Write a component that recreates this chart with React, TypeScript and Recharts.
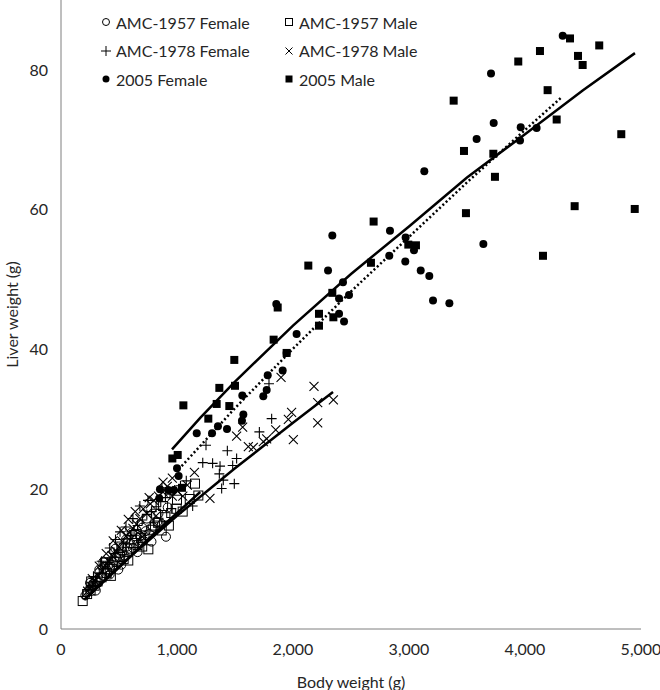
import { ScatterChart, Scatter, XAxis, YAxis } from "recharts";

type Pt = { x: number; y: number };

const xTicks = [0, 1000, 2000, 3000, 4000, 5000];
const yTicks = [0, 20, 40, 60, 80];

// AMC-1957
const amc57FemaleX = [210, 230, 250, 250, 265, 280, 300, 300, 320, 330, 340, 365, 380, 400, 420, 420, 440, 460, 470, 480, 494, 510, 520, 530, 550, 560, 570, 600, 610, 620, 650, 660, 680, 700, 700, 730, 740, 760, 780, 790, 830, 840, 870, 905, 920];
const amc57FemaleY = [4.8, 5.3, 5.6, 6.6, 6.0, 6.5, 6.9, 5.5, 6.6, 8.5, 7.3, 9.6, 8.0, 8.4, 9.3, 7.8, 8.9, 9.8, 11.5, 10.2, 8.5, 10.8, 9.2, 11.1, 10.5, 12.8, 11.8, 12.2, 13.8, 11.6, 12.8, 11.0, 13.3, 12.6, 14.5, 14.0, 15.8, 13.6, 12.5, 14.6, 15.3, 16.5, 15.0, 13.2, 17.4];
const amc57MaleX = [187, 225, 255, 260, 290, 315, 350, 380, 394, 420, 430, 450, 480, 510, 520, 540, 570, 580, 600, 630, 650, 660, 690, 700, 720, 753, 780, 810, 820, 840, 868, 880, 900, 930, 950, 997, 1000, 1049, 1110, 1155, 1184];
const amc57MaleY = [4.0, 5.0, 5.5, 6.8, 6.2, 6.8, 7.4, 9.5, 8.0, 8.6, 7.6, 9.2, 9.6, 10.3, 11.8, 10.0, 11.0, 9.8, 11.5, 12.3, 13.6, 12.0, 13.0, 11.8, 13.4, 11.4, 14.2, 14.8, 16.5, 15.2, 14.1, 17.6, 16.0, 14.8, 16.6, 17.2, 18.5, 16.8, 18.6, 20.8, 19.1];

// AMC-1978
const amc78FemaleX = [240, 270, 280, 300, 330, 350, 360, 400, 420, 430, 460, 470, 490, 509, 540, 560, 570, 600, 620, 630, 660, 680, 700, 740, 750, 780, 800, 820, 860, 870, 900, 940, 950, 980, 1030, 1080, 1135, 1222, 1250, 1307, 1365, 1371, 1385, 1399, 1434, 1480, 1494, 1514, 1710, 1793, 1816];
const amc78FemaleY = [5.6, 6.2, 7.5, 6.8, 7.9, 9.7, 8.6, 9.5, 11.6, 10.2, 10.8, 12.8, 11.3, 13.9, 12.2, 14.6, 12.9, 13.4, 15.8, 14.1, 14.8, 17.6, 15.6, 16.4, 18.4, 16.8, 15.2, 17.5, 18.2, 20.2, 18.8, 19.3, 17.2, 19.9, 20.5, 21.2, 17.6, 23.8, 26.3, 23.7, 22.2, 23.3, 20.1, 21.3, 25.5, 23.4, 20.8, 24.4, 28.2, 35.1, 30.1];
const amc78MaleX = [230, 260, 270, 290, 320, 330, 350, 380, 390, 410, 440, 450, 470, 500, 520, 530, 560, 580, 590, 620, 640, 650, 680, 700, 709, 740, 760, 770, 800, 820, 840, 880, 880, 916, 960, 960, 1000, 1050, 1089, 1150, 1284, 1514, 1566, 1615, 1658, 1744, 1773, 1851, 1897, 1960, 1988, 2003, 2181, 2213, 2213, 2348];
const amc78MaleY = [5.4, 6.1, 7.2, 6.9, 7.6, 9.0, 8.3, 9.1, 10.8, 9.7, 10.5, 12.6, 11.2, 11.7, 14.1, 12.5, 13.3, 15.7, 13.8, 14.4, 16.8, 15.0, 15.8, 13.2, 17.2, 16.5, 18.8, 17.9, 18.4, 16.2, 19.0, 19.6, 21.0, 20.4, 19.0, 21.6, 19.8, 19.0, 20.6, 22.4, 18.7, 27.6, 28.9, 26.1, 26.0, 26.8, 27.2, 28.5, 36.0, 30.0, 31.0, 27.1, 34.7, 32.4, 29.5, 32.8];

// 2005
const y05FemaleX = [847, 853, 925, 974, 1000, 1014, 1170, 1302, 1353, 1431, 1560, 1563, 1572, 1744, 1773, 1782, 1856, 1911, 1945, 2031, 2302, 2339, 2397, 2397, 2431, 2440, 2483, 2830, 2836, 2968, 2971, 3043, 3101, 3132, 3175, 3207, 3348, 3583, 3641, 3707, 3730, 3957, 3963, 4100, 4325];
const y05FemaleY = [18.7, 20.0, 19.9, 19.9, 23.0, 21.9, 28.0, 28.0, 29.0, 28.6, 29.8, 33.4, 30.7, 33.3, 34.2, 36.3, 46.5, 37.0, 39.5, 42.2, 51.3, 56.3, 47.3, 45.1, 49.6, 44.0, 47.8, 53.4, 57.0, 52.6, 56.0, 54.2, 51.3, 65.5, 50.5, 47.0, 46.6, 70.1, 55.1, 79.5, 72.4, 69.9, 71.8, 71.7, 84.9];
const y05MaleX = [960, 1006, 1043, 1055, 1270, 1342, 1365, 1451, 1494, 1500, 1833, 1868, 1945, 2132, 2224, 2224, 2339, 2348, 2672, 2695, 2994, 3060, 3385, 3474, 3491, 3727, 3741, 3942, 4129, 4155, 4195, 4273, 4388, 4428, 4457, 4497, 4640, 4830, 4946];
const y05MaleY = [24.4, 24.9, 20.2, 32.0, 30.1, 32.2, 34.5, 31.9, 38.5, 34.8, 41.4, 46.0, 39.5, 52.0, 45.1, 43.4, 48.1, 44.6, 52.4, 58.3, 55.0, 54.9, 75.6, 68.4, 59.5, 68.0, 64.7, 81.2, 82.7, 53.4, 77.1, 72.9, 84.5, 60.5, 82.0, 80.7, 83.5, 70.8, 60.1];

// trend lines
const trendAmc57X = [200, 500, 800, 1200];
const trendAmc57Y = [4.2, 8.8, 13.6, 19.6];
const trendAmc78X = [230, 400, 600, 1000, 1500, 2000, 2345];
const trendAmc78Y = [4.6, 7.4, 10.4, 16.2, 23.0, 29.5, 33.9];
const trend05FemaleX = [1040, 1250, 1500, 2000, 2500, 3000, 3500, 4000, 4310];
const trend05FemaleY = [23.3, 27.1, 31.6, 40.1, 48.3, 56.1, 63.9, 71.4, 76.0];
const trend05MaleX = [957, 1200, 1500, 2000, 2500, 3000, 3500, 4000, 4500, 4948];
const trend05MaleY = [25.7, 30.2, 35.4, 43.4, 50.8, 57.6, 64.6, 70.8, 77.1, 82.4];

const zip = (xs: number[], ys: number[]): Pt[] => xs.map((x, i) => ({ x, y: ys[i] }));

const FONT = "Lato, 'Open Sans', sans-serif";
const TEXT = "#262626";
const AXIS = "#7f7f7f";

const OpenCircle = (p: any) => <circle cx={p.cx} cy={p.cy} r={4.5} fill="none" stroke="#000" strokeWidth={1} />;
const OpenSquare = (p: any) => <rect x={p.cx - 4.5} y={p.cy - 4.5} width={9} height={9} fill="none" stroke="#000" strokeWidth={1} />;
const Plus = (p: any) => (
  <path d={`M${p.cx - 5},${p.cy}H${p.cx + 5}M${p.cx},${p.cy - 5}V${p.cy + 5}`} stroke="#000" strokeWidth={1.1} />
);
const Cross = (p: any) => (
  <path d={`M${p.cx - 4.5},${p.cy - 4.5}L${p.cx + 4.5},${p.cy + 4.5}M${p.cx - 4.5},${p.cy + 4.5}L${p.cx + 4.5},${p.cy - 4.5}`} stroke="#000" strokeWidth={1.1} />
);
const FilledCircle = (p: any) => <circle cx={p.cx} cy={p.cy} r={4} fill="#000" />;
const FilledSquare = (p: any) => <rect x={p.cx - 4} y={p.cy - 4} width={8} height={8} fill="#000" />;
const NoDot = () => <g />;

const legendItems: { label: string; icon: JSX.Element }[] = [
  { label: "AMC-1957 Female", icon: <circle cx={6} cy={6} r={3.5} fill="none" stroke="#000" /> },
  { label: "AMC-1957 Male", icon: <rect x={2.5} y={2.5} width={7} height={7} fill="none" stroke="#000" /> },
  { label: "AMC-1978 Female", icon: <path d="M1,6H11M6,1V11" stroke="#000" /> },
  { label: "AMC-1978 Male", icon: <path d="M2.5,2.5L9.5,9.5M2.5,9.5L9.5,2.5" stroke="#000" /> },
  { label: "2005 Female", icon: <circle cx={6} cy={6} r={3.5} fill="#000" /> },
  { label: "2005 Male", icon: <rect x={2.5} y={2.5} width={7} height={7} fill="#000" /> },
];

export default function App() {
  return (
    <div style={{ position: "absolute", left: 0, top: 0, width: 660, height: 690, fontFamily: FONT }}>
      <ScatterChart width={660} height={690} margin={{ top: 0, right: 19, bottom: 0, left: 0 }}>
        <XAxis
          type="number"
          dataKey="x"
          domain={[0, 5000]}
          ticks={xTicks}
          tickFormatter={(v: number) => v.toLocaleString("en-US")}
          height={61}
          tickLine={false}
          tickSize={0}
          tickMargin={15}
          stroke={AXIS}
          tick={{ fill: TEXT, fontSize: 16, fontFamily: FONT }}
          label={{ value: "Body weight (g)", position: "insideBottom", offset: 2, fill: TEXT, fontSize: 16, fontFamily: FONT }}
        />
        <YAxis
          type="number"
          dataKey="y"
          domain={[0, 90]}
          ticks={yTicks}
          width={61}
          tickLine={false}
          tickSize={0}
          tickMargin={13}
          stroke={AXIS}
          tick={{ fill: TEXT, fontSize: 16, fontFamily: FONT }}
          label={{
            value: "Liver weight (g)",
            angle: -90,
            position: "insideLeft",
            offset: 12,
            fill: TEXT,
            fontSize: 16,
            fontFamily: FONT,
            style: { textAnchor: "middle" },
          }}
        />
        <Scatter name="AMC-1957 Female" data={zip(amc57FemaleX, amc57FemaleY)} shape={OpenCircle} isAnimationActive={false} />
        <Scatter name="AMC-1957 Male" data={zip(amc57MaleX, amc57MaleY)} shape={OpenSquare} isAnimationActive={false} />
        <Scatter name="AMC-1978 Female" data={zip(amc78FemaleX, amc78FemaleY)} shape={Plus} isAnimationActive={false} />
        <Scatter name="AMC-1978 Male" data={zip(amc78MaleX, amc78MaleY)} shape={Cross} isAnimationActive={false} />
        <Scatter name="2005 Female" data={zip(y05FemaleX, y05FemaleY)} shape={FilledCircle} isAnimationActive={false} />
        <Scatter name="2005 Male" data={zip(y05MaleX, y05MaleY)} shape={FilledSquare} isAnimationActive={false} />

        <Scatter data={zip(trendAmc57X, trendAmc57Y)} fill="#000" shape={NoDot} line={{ stroke: "#000", strokeWidth: 2.5 }} lineType="joint" isAnimationActive={false} />
        <Scatter data={zip(trendAmc78X, trendAmc78Y)} fill="#000" shape={NoDot} line={{ stroke: "#000", strokeWidth: 2.5 }} lineType="joint" isAnimationActive={false} />
        <Scatter data={zip(trend05FemaleX, trend05FemaleY)} fill="#000" shape={NoDot} line={{ stroke: "#000", strokeWidth: 2.5, strokeDasharray: "2 2.5" }} lineType="joint" isAnimationActive={false} />
        <Scatter data={zip(trend05MaleX, trend05MaleY)} fill="#000" shape={NoDot} line={{ stroke: "#000", strokeWidth: 2.5 }} lineType="joint" isAnimationActive={false} />
      </ScatterChart>

      <div
        style={{
          position: "absolute",
          left: 100,
          top: 8,
          display: "grid",
          gridTemplateColumns: "183px auto",
          gridAutoRows: "28.5px",
          fontSize: 16,
          color: TEXT,
        }}
      >
        {legendItems.map((it) => (
          <div key={it.label} style={{ display: "flex", alignItems: "center", whiteSpace: "nowrap" }}>
            <svg width={12} height={12} style={{ marginRight: 4 }}>
              {it.icon}
            </svg>
            <span>{it.label}</span>
          </div>
        ))}
      </div>
    </div>
  );
}
